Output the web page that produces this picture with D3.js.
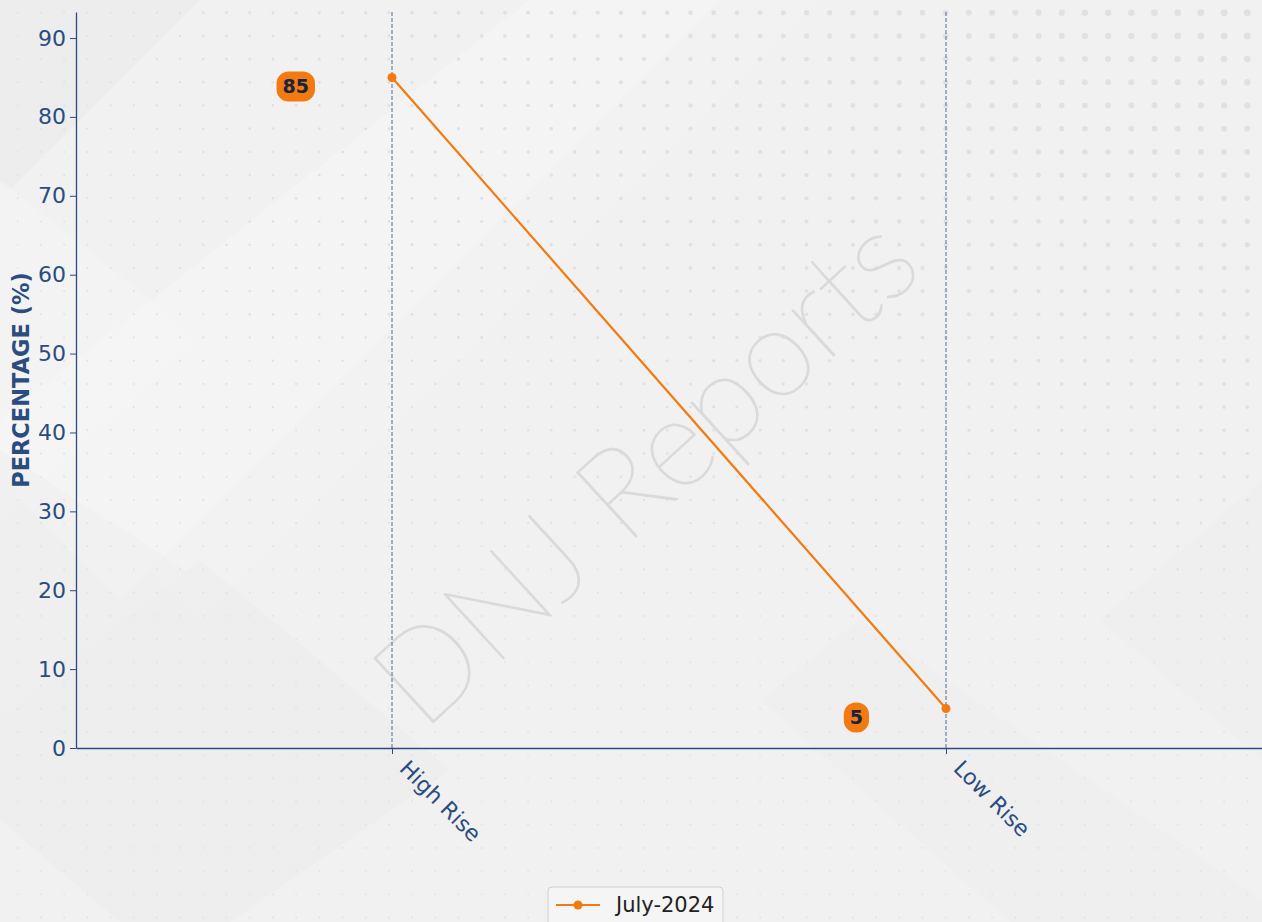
<!DOCTYPE html>
<html>
<head>
<meta charset="utf-8">
<script src="https://cdn.jsdelivr.net/npm/d3@7"></script>
<style>
  body { margin: 0; background: #f1f1f1; overflow: hidden; }
  svg { display: block; font-family: 'DejaVu Sans', sans-serif; }
</style>
</head>
<body>
<div id="chart"></div>
<script>
// data
var categories = ['High Rise', 'Low Rise'];
var july2024 = [85, 5];
var seriesName = 'July-2024';
var yTicks = [0, 10, 20, 30, 40, 50, 60, 70, 80, 90];

// set up svg
var svgWidth = 1262;
var svgHeight = 922;

var margin = {
    top: 12,
    right: 0,
    bottom: 174,
    left: 76
};

var width = svgWidth - margin.left - margin.right;
var height = svgHeight - margin.top - margin.bottom;

var axisColor = '#2b4c7e';
var orange = '#f27a10';

var svg = d3.select('#chart')
    .append('svg')
    .attr('width', svgWidth)
    .attr('height', svgHeight);

// background
var bg = svg.append('g');
bg.append('rect')
    .attr('width', svgWidth)
    .attr('height', svgHeight)
    .attr('fill', '#f1f1f1');

var shapes = [
    {pts: [[0, 0], [200, 0], [0, 200]], fill: '#ebebeb'},
    {pts: [[0, 180], [200, 340], [0, 520]], fill: '#f5f5f5'},
    {pts: [[530, 0], [720, 0], [120, 600], [0, 480], [0, 420]], fill: '#f6f6f6'},
    {pts: [[720, 0], [820, 0], [200, 620], [150, 570]], fill: '#f4f4f4'},
    {pts: [[0, 720], [200, 560], [450, 770], [230, 922], [120, 922], [0, 820]], fill: '#ececec'},
    {pts: [[0, 450], [200, 580], [0, 740]], fill: '#eeeeee'},
    {pts: [[1262, 480], [1262, 760], [1100, 620]], fill: '#efefef'},
    {pts: [[860, 620], [1262, 900], [1262, 922], [1010, 922], [760, 700]], fill: '#eeeeee'}
];
bg.selectAll('polygon')
    .data(shapes)
    .enter()
    .append('polygon')
    .attr('points', d => d.pts.map(p => p.join(',')).join(' '))
    .attr('fill', d => d.fill)
    .attr('opacity', 0.6);

// dot pattern, bigger toward top right
var dots = [];
for (var gx = 17.7; gx < svgWidth; gx += 23.2) {
    for (var gy = 12.7; gy < svgHeight; gy += 23.2) {
        var t = (gx / svgWidth) * (1 - 1.4 * gy / svgHeight);
        if (t < 0) t = 0;
        dots.push({x: gx, y: gy, r: 0.9 + 2.7 * t});
    }
}
bg.selectAll('circle')
    .data(dots)
    .enter()
    .append('circle')
    .attr('cx', d => d.x)
    .attr('cy', d => d.y)
    .attr('r', d => d.r)
    .attr('fill', '#e1e1e1');

// watermark
svg.append('text')
    .attr('transform', 'translate(674,502) rotate(-42.5)')
    .attr('text-anchor', 'middle')
    .style('font-family', 'Lato, "DejaVu Sans", sans-serif')
    .style('font-weight', 100)
    .style('font-size', '125px')
    .attr('fill', '#dadada')
    .attr('stroke', '#dadada')
    .attr('stroke-width', 1.3)
    .text('DNJ Reports');

var chartGroup = svg.append('g')
    .attr('transform', `translate(${margin.left},${margin.top})`);

// scales
var xScale = d3.scalePoint()
    .domain(categories)
    .range([0, width])
    .padding(0.5704);

var yScale = d3.scaleLinear()
    .domain([0, 93.3])
    .range([height, 0]);

// vertical dashed grid lines
chartGroup.selectAll('.vgrid')
    .data(categories)
    .enter()
    .append('line')
    .attr('class', 'vgrid')
    .attr('x1', d => xScale(d))
    .attr('x2', d => xScale(d))
    .attr('y1', 0)
    .attr('y2', height)
    .attr('stroke', '#4d6d9b')
    .attr('stroke-width', 1)
    .attr('stroke-dasharray', '4,2');

// axes
var bottomAxis = d3.axisBottom(xScale).tickSize(6).tickSizeOuter(0).tickFormat('');
var leftAxis = d3.axisLeft(yScale).tickValues(yTicks).tickSize(6).tickSizeOuter(0);

var xAxisG = chartGroup.append('g')
    .attr('transform', `translate(0,${height})`)
    .call(bottomAxis);
xAxisG.select('.domain').attr('stroke', axisColor).attr('stroke-width', 1.3);
xAxisG.selectAll('.tick line').attr('stroke', axisColor);

chartGroup.selectAll('.xlabel')
    .data(categories)
    .enter()
    .append('text')
    .attr('class', 'xlabel')
    .attr('transform', d => `translate(${xScale(d) + 18},${height + 10}) rotate(45)`)
    .attr('dy', '0.75em')
    .attr('fill', axisColor)
    .style('font-size', '22px')
    .text(d => d);

var yAxisG = chartGroup.append('g').call(leftAxis);
yAxisG.select('.domain').attr('stroke', axisColor).attr('stroke-width', 1.3);
yAxisG.selectAll('.tick line').attr('stroke', axisColor);
yAxisG.selectAll('.tick text')
    .attr('fill', axisColor)
    .attr('x', -10)
    .style('font-size', '22px')
    .style('font-family', '"DejaVu Sans", sans-serif');

// y axis label
svg.append('text')
    .attr('transform', 'translate(21,380) rotate(-90)')
    .attr('text-anchor', 'middle')
    .attr('dy', '0.35em')
    .attr('fill', axisColor)
    .style('font-size', '22.5px')
    .style('font-weight', 'bold')
    .text('PERCENTAGE (%)');

// line
var line = d3.line()
    .x((d, i) => xScale(categories[i]))
    .y(d => yScale(d));

chartGroup.append('path')
    .datum(july2024)
    .attr('d', line)
    .attr('fill', 'none')
    .attr('stroke', orange)
    .attr('stroke-width', 2.2);

chartGroup.selectAll('.pt')
    .data(july2024)
    .enter()
    .append('circle')
    .attr('class', 'pt')
    .attr('cx', (d, i) => xScale(categories[i]))
    .attr('cy', d => yScale(d))
    .attr('r', 4.5)
    .attr('fill', orange);

// value labels
var labels = chartGroup.selectAll('.vlabel')
    .data(july2024)
    .enter()
    .append('g')
    .attr('class', 'vlabel')
    .attr('transform', (d, i) => `translate(${xScale(categories[i]) - 77},${yScale(d) + 9})`);

labels.append('text')
    .attr('text-anchor', 'end')
    .attr('x', -6)
    .attr('dy', '0.36em')
    .attr('fill', '#16243f')
    .style('font-size', '19px')
    .style('font-weight', 'bold')
    .text(d => d);

labels.each(function() {
    var g = d3.select(this);
    var bb = g.select('text').node().getBBox();
    g.insert('rect', 'text')
        .attr('x', bb.x - 6)
        .attr('y', -15)
        .attr('width', bb.width + 12)
        .attr('height', 30)
        .attr('rx', 12)
        .attr('fill', orange);
});

// legend
var legend = svg.append('g')
    .attr('transform', 'translate(548,887)');
legend.append('rect')
    .attr('width', 175)
    .attr('height', 45)
    .attr('rx', 4)
    .attr('fill', '#f6f6f6')
    .attr('fill-opacity', 0.85)
    .attr('stroke', '#d0d0d0');
legend.append('line')
    .attr('x1', 8)
    .attr('x2', 52)
    .attr('y1', 18)
    .attr('y2', 18)
    .attr('stroke', orange)
    .attr('stroke-width', 2);
legend.append('circle')
    .attr('cx', 30)
    .attr('cy', 18)
    .attr('r', 4.5)
    .attr('fill', orange);
legend.append('text')
    .attr('x', 68)
    .attr('y', 25)
    .attr('fill', '#222')
    .style('font-size', '21px')
    .text(seriesName);
</script>
</body>
</html>
